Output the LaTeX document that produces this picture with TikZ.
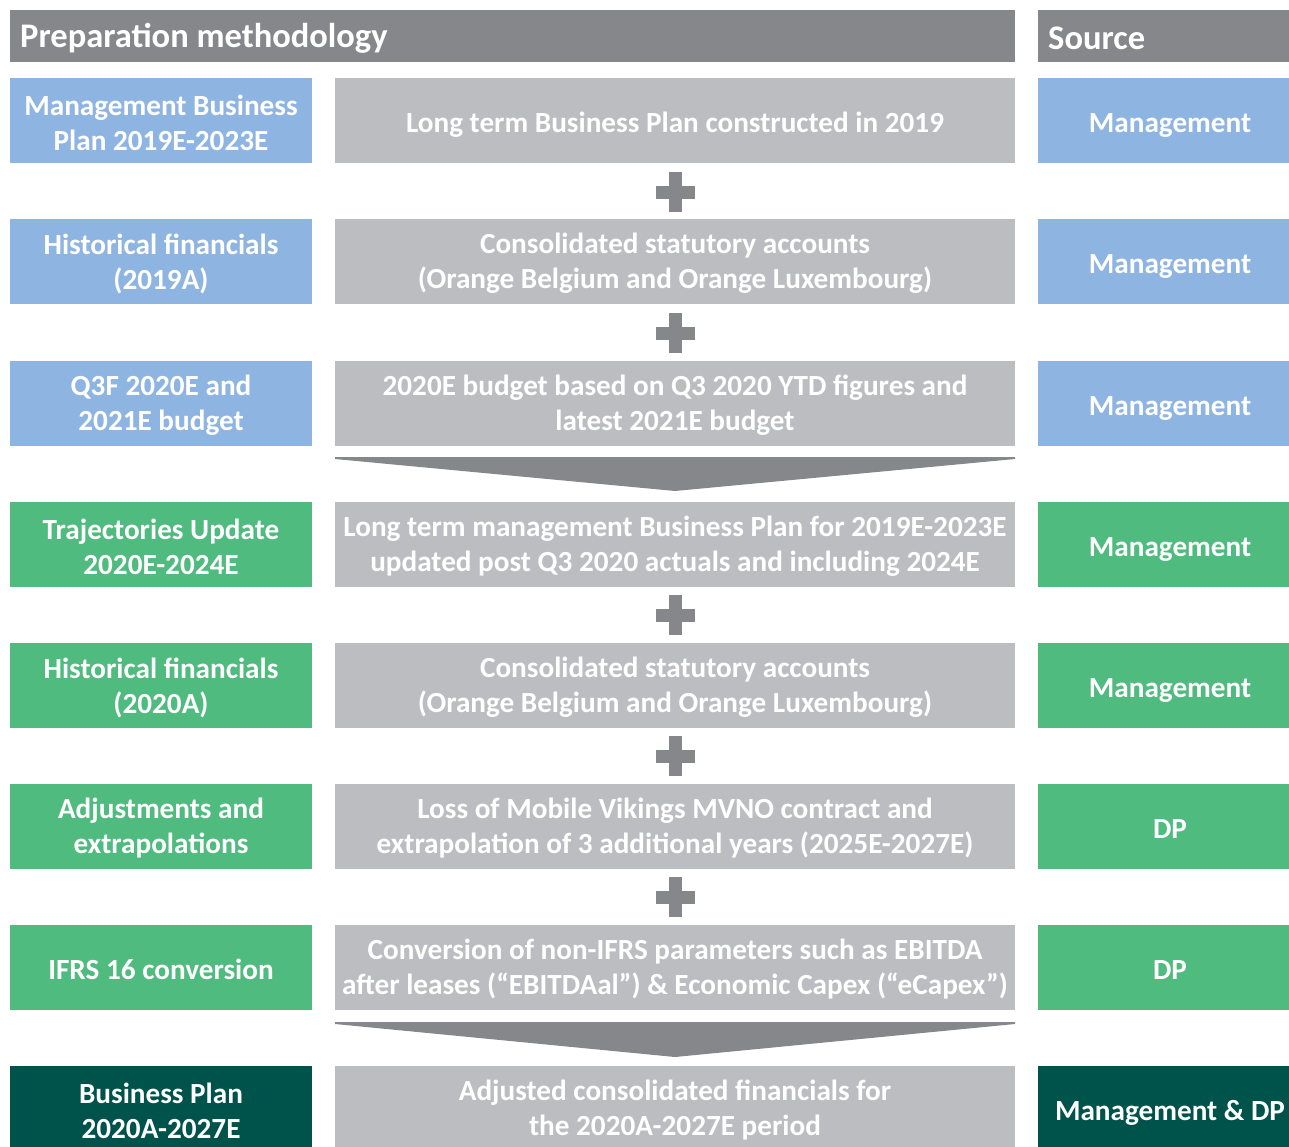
\documentclass[tikz,border=0pt]{standalone}
\usepackage{fontspec}
\setmainfont{Carlito}
\definecolor{hdrgray}{HTML}{86878B}
\definecolor{midgray}{HTML}{BCBDC0}
\definecolor{bluebox}{HTML}{8EB4E2}
\definecolor{greenbox}{HTML}{4FBB7E}
\definecolor{darkgreen}{HTML}{00534A}
\begin{document}
\begin{tikzpicture}[x=1pt,y=-1pt,
  box/.style={rectangle,inner sep=0pt,outer sep=0pt,text=white,align=center,
    font=\bfseries\fontsize{29.2}{35}\selectfont,minimum height=85pt},
  leftbox/.style={box,minimum width=302pt},
  midbox/.style={box,fill=midgray,minimum width=680pt},
  rightbox/.style={box,minimum width=264pt},
  hdrtext/.style={anchor=west,text=white,font=\bfseries\fontsize{34.5}{40}\selectfont,inner sep=0pt},
  plusfill/.style={fill=hdrgray},
  lbl/.style={inner sep=0pt,text=white,align=center,font=\bfseries\fontsize{29.2}{35}\selectfont},
  one/.style={lbl,text height=20pt,text depth=7pt},
]
\useasboundingbox (0,0) rectangle (1289,1146);
\clip (0,0) rectangle (1289,1146);
% headers
\fill[hdrgray] (10,10) rectangle (1015,62);
\node[hdrtext] (hprep) at (20,38.5) {Preparation methodology};
\fill[hdrgray] (1038,10) rectangle (1302,62);
\node[hdrtext] (hsrc) at (1048,38.5) {Source};
% boxes (fills)
\foreach \yy/\cl/\nm in {120.5/bluebox/1,261.5/bluebox/2,403.5/bluebox/3,544.5/greenbox/4,685.5/greenbox/5,826.5/greenbox/6,967.5/greenbox/7,1108.5/darkgreen/8}{
  \node[leftbox,fill=\cl] (l\nm) at (161,\yy) {};
  \node[midbox] (m\nm) at (675,\yy) {};
  \node[rightbox,fill=\cl] (r\nm) at (1170,\yy) {};
}
% labels
\node[lbl] (tl1) at ([yshift=-2pt]l1.center) {Management Business\\Plan 2019E-2023E};
\node[one] (tm1) at ([yshift=-5pt]m1.center) {Long term Business Plan constructed in 2019};
\node[one] (tr1) at ([yshift=-5pt]r1.center) {Management};
\node[lbl] (tl2) at ([yshift=-2pt]l2.center) {Historical financials\\(2019A)};
\node[lbl] (tm2) at ([yshift=-2pt]m2.center) {Consolidated statutory accounts\\(Orange Belgium and Orange Luxembourg)};
\node[one] (tr2) at ([yshift=-5pt]r2.center) {Management};
\node[lbl] (tl3) at ([yshift=-2pt]l3.center) {Q3F 2020E and\\2021E budget};
\node[lbl] (tm3) at ([yshift=-2pt]m3.center) {2020E budget based on Q3 2020 YTD figures and\\latest 2021E budget};
\node[one] (tr3) at ([yshift=-5pt]r3.center) {Management};
\node[lbl] (tl4) at ([yshift=-2pt]l4.center) {Trajectories Update\\2020E-2024E};
\node[lbl] (tm4) at ([yshift=-2pt]m4.center) {Long term management Business Plan for 2019E-2023E\\updated post Q3 2020 actuals and including 2024E};
\node[one] (tr4) at ([yshift=-5pt]r4.center) {Management};
\node[lbl] (tl5) at ([yshift=-2pt]l5.center) {Historical financials\\(2020A)};
\node[lbl] (tm5) at ([yshift=-2pt]m5.center) {Consolidated statutory accounts\\(Orange Belgium and Orange Luxembourg)};
\node[one] (tr5) at ([yshift=-5pt]r5.center) {Management};
\node[lbl] (tl6) at ([yshift=-2pt]l6.center) {Adjustments and\\extrapolations};
\node[lbl] (tm6) at ([yshift=-2pt]m6.center) {Loss of Mobile Vikings MVNO contract and\\extrapolation of 3 additional years (2025E-2027E)};
\node[one] (tr6) at ([yshift=-5pt]r6.center) {DP};
\node[one] (tl7) at ([yshift=-5pt]l7.center) {IFRS 16 conversion};
\node[lbl] (tm7) at ([yshift=-2pt]m7.center) {Conversion of non-IFRS parameters such as EBITDA\\after leases (“EBITDAal”) \& Economic Capex (“eCapex”)};
\node[one] (tr7) at ([yshift=-5pt]r7.center) {DP};
\node[lbl] (tl8) at ([yshift=-2pt]l8.center) {Business Plan\\2020A-2027E};
\node[lbl] (tm8) at ([yshift=-2pt]m8.center) {Adjusted consolidated financials for\\the 2020A-2027E period};
\node[one] (tr8) at ([yshift=-5pt]r8.center) {Management \& DP};
% plus signs
\foreach \c in {192,333,615,756,897}{
  \fill[plusfill] (655.5,\c-6.5) rectangle (694.5,\c+6.5);
  \fill[plusfill] (668.5,\c-20) rectangle (681.5,\c+20);
}
% chevron arrows
\fill[hdrgray] (335,457) -- (1015,457) -- (1015,459) -- (675,491) -- (335,459) -- cycle;
\fill[hdrgray] (335,1022) -- (1015,1022) -- (1015,1024) -- (675,1057) -- (335,1024) -- cycle;
\end{tikzpicture}
\end{document}
